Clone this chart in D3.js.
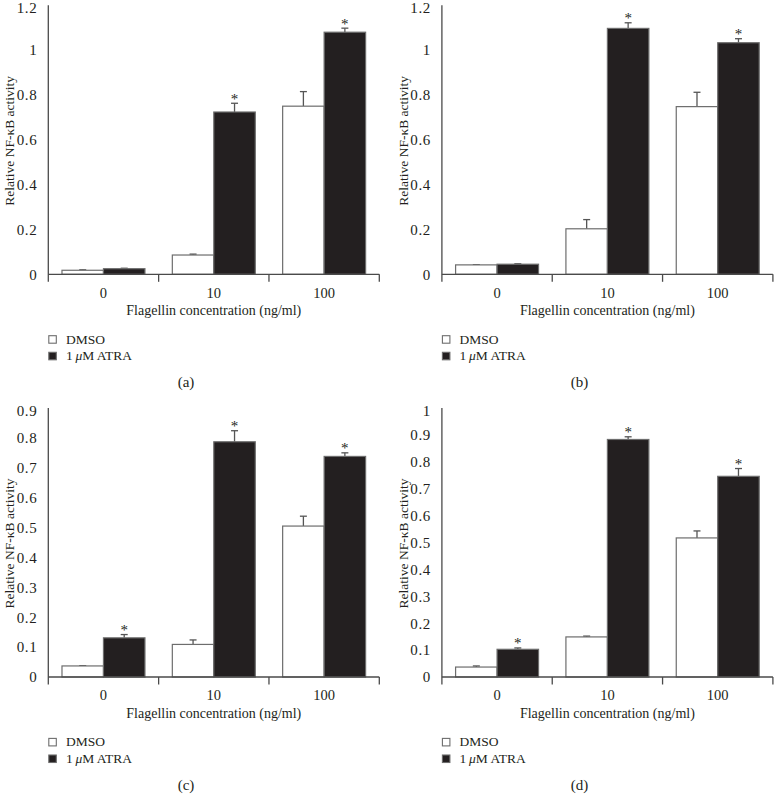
<!DOCTYPE html>
<html>
<head>
<meta charset="utf-8">
<script src="https://cdn.jsdelivr.net/npm/d3@7"></script>
<style>
  html, body { margin: 0; padding: 0; background: #fff; }
  svg { display: block; }
  text { font-family: "Liberation Serif", "Times New Roman", serif; fill: #231f20; }
</style>
</head>
<body>
<svg id="chart" width="774" height="804"></svg>
<script>
// ---- data ----
const categories = ["0", "10", "100"];
const seriesNames = ["DMSO", "1 μM ATRA"];
const panelLabels = ["(a)", "(b)", "(c)", "(d)"];
const xTitle = "Flagellin concentration (ng/ml)";
const yTitle = "Relative NF-κB activity";

const dmsoA = [0.018, 0.086, 0.750];
const dmsoErrA = [0.002, 0.004, 0.065];
const atraA = [0.025, 0.724, 1.080];
const atraErrA = [0.002, 0.039, 0.018];
const sigA = [false, true, true];

const dmsoB = [0.042, 0.203, 0.748];
const dmsoErrB = [0.001, 0.041, 0.064];
const atraB = [0.045, 1.097, 1.033];
const atraErrB = [0.002, 0.025, 0.018];
const sigB = [false, true, true];

const dmsoC = [0.037, 0.109, 0.505];
const dmsoErrC = [0.001, 0.015, 0.033];
const atraC = [0.131, 0.787, 0.738];
const atraErrC = [0.011, 0.037, 0.012];
const sigC = [true, true, true];

const dmsoD = [0.037, 0.149, 0.517];
const dmsoErrD = [0.004, 0.003, 0.026];
const atraD = [0.103, 0.883, 0.746];
const atraErrD = [0.005, 0.010, 0.029];
const sigD = [true, true, true];

const ticksAB = [0, 0.2, 0.4, 0.6, 0.8, 1, 1.2];
const ticksC = [0, 0.1, 0.2, 0.3, 0.4, 0.5, 0.6, 0.7, 0.8, 0.9];
const ticksD = [0, 0.1, 0.2, 0.3, 0.4, 0.5, 0.6, 0.7, 0.8, 0.9, 1];

// ---- layout ----
const panels = [
  {dmso: dmsoA, dErr: dmsoErrA, atra: atraA, aErr: atraErrA, sig: sigA, ticks: ticksAB, max: 1.2, ox: 0, oy: 0, label: panelLabels[0]},
  {dmso: dmsoB, dErr: dmsoErrB, atra: atraB, aErr: atraErrB, sig: sigB, ticks: ticksAB, max: 1.2, ox: 393.6, oy: 0, label: panelLabels[1]},
  {dmso: dmsoC, dErr: dmsoErrC, atra: atraC, aErr: atraErrC, sig: sigC, ticks: ticksC, max: 0.9, ox: 0, oy: 402.7, label: panelLabels[2]},
  {dmso: dmsoD, dErr: dmsoErrD, atra: atraD, aErr: atraErrD, sig: sigD, ticks: ticksD, max: 1.0, ox: 393.6, oy: 402.7, label: panelLabels[3]}
];

const L = 48.3, R = 379.3, Y0 = 274.3, YT = 5.3;
const axisColor = "#4a4a4a";
const barStroke = "#6d6d6d";
const darkFill = "#231f20";

const svg = d3.select("#chart");

panels.forEach(p => {
  const g = svg.append("g").attr("transform", `translate(${p.ox},${p.oy})`);
  const x0 = d3.scaleBand().domain(categories).range([L, R]).padding(0);
  const x1 = d3.scaleBand().domain(seriesNames).range([0, x0.bandwidth()])
    .paddingInner(0).paddingOuter(0.33);
  const y = d3.scaleLinear().domain([0, p.max]).range([Y0, YT]);

  const rows = categories.map((c, i) => [
    {cat: c, s: seriesNames[0], v: p.dmso[i], e: p.dErr[i], sig: false},
    {cat: c, s: seriesNames[1], v: p.atra[i], e: p.aErr[i], sig: p.sig[i]}
  ]).flat();

  // error bars
  const eb = g.append("g");
  rows.forEach(r => {
    const cx = x0(r.cat) + x1(r.s) + x1.bandwidth() / 2;
    eb.append("line").attr("x1", cx).attr("x2", cx)
      .attr("y1", y(r.v)).attr("y2", y(r.v + r.e))
      .attr("stroke", "#555").attr("stroke-width", 1.3);
    eb.append("line").attr("x1", cx - 3.5).attr("x2", cx + 3.5)
      .attr("y1", y(r.v + r.e)).attr("y2", y(r.v + r.e))
      .attr("stroke", "#555").attr("stroke-width", 1.3);
  });

  g.append("g").selectAll("rect").data(rows).join("rect")
    .attr("x", d => x0(d.cat) + x1(d.s))
    .attr("y", d => y(d.v))
    .attr("width", x1.bandwidth())
    .attr("height", d => Y0 - y(d.v))
    .attr("fill", d => d.s === seriesNames[0] ? "#fff" : darkFill)
    .attr("stroke", barStroke)
    .attr("stroke-width", 1.2);

  // asterisks
  g.append("g").selectAll("text").data(rows.filter(d => d.sig)).join("text")
    .attr("x", d => x0(d.cat) + x1(d.s) + x1.bandwidth() / 2)
    .attr("y", d => y(d.v + d.e) + 0.5)
    .attr("text-anchor", "middle")
    .attr("font-size", 15)
    .text("*");

  // y axis
  const yAxis = d3.axisLeft(y).tickValues(p.ticks).tickSize(0).tickPadding(11)
    .tickFormat(d => String(+d.toFixed(2)));
  const ya = g.append("g").attr("transform", `translate(${L},0)`).call(yAxis);
  ya.select(".domain").remove();
  ya.selectAll("text").attr("font-size", 15).attr("fill", "#231f20")
    .attr("font-family", "Liberation Serif, serif").attr("letter-spacing", "0.6px");
  ya.selectAll(".tick").filter(d => d === p.max).select("text").attr("dy", "0.48em");

  g.append("line").attr("x1", L).attr("x2", L).attr("y1", YT).attr("y2", Y0 + 7.5)
    .attr("stroke", axisColor).attr("stroke-width", 1.3);

  // x axis
  g.append("line").attr("x1", L).attr("x2", R).attr("y1", Y0).attr("y2", Y0)
    .attr("stroke", axisColor).attr("stroke-width", 1.3);
  const bounds = categories.map(c => x0(c) + x0.bandwidth());
  g.append("g").selectAll("line").data(bounds).join("line")
    .attr("x1", d => d).attr("x2", d => d).attr("y1", Y0).attr("y2", Y0 + 7.5)
    .attr("stroke", axisColor).attr("stroke-width", 1.3);
  g.append("g").selectAll("text").data(categories).join("text")
    .attr("x", d => x0(d) + x0.bandwidth() / 2)
    .attr("y", Y0 + 23.5)
    .attr("text-anchor", "middle")
    .attr("font-size", 14.5)
    .text(d => d);

  // titles
  g.append("text").attr("x", (L + R) / 2).attr("y", Y0 + 41)
    .attr("text-anchor", "middle").attr("font-size", 14).text(xTitle);
  g.append("text").attr("transform", `translate(14,${(YT + Y0) / 2 + 1}) rotate(-90)`)
    .attr("text-anchor", "middle").attr("font-size", 13.5).text(yTitle);

  // legend
  const lg = g.append("g");
  [0, 1].forEach(i => {
    const ly = 335.7 + i * 16.6;
    lg.append("rect").attr("x", L + 0.5).attr("y", ly).attr("width", 7.5).attr("height", 7.5)
      .attr("fill", i === 0 ? "#fff" : darkFill).attr("stroke", barStroke).attr("stroke-width", 1.1);
  });
  lg.append("text").attr("x", 66).attr("y", 343.5).attr("font-size", 13.5).text(seriesNames[0]);
  const t2 = lg.append("text").attr("x", 66).attr("y", 360.2).attr("font-size", 13.5);
  t2.append("tspan").text("1\u2009");
  t2.append("tspan").attr("font-style", "italic").text("μ");
  t2.append("tspan").text("M ATRA");

  // panel label
  g.append("text").attr("x", 186).attr("y", 387).attr("text-anchor", "middle")
    .attr("font-size", 15).text(p.label);
});
</script>
</body>
</html>
